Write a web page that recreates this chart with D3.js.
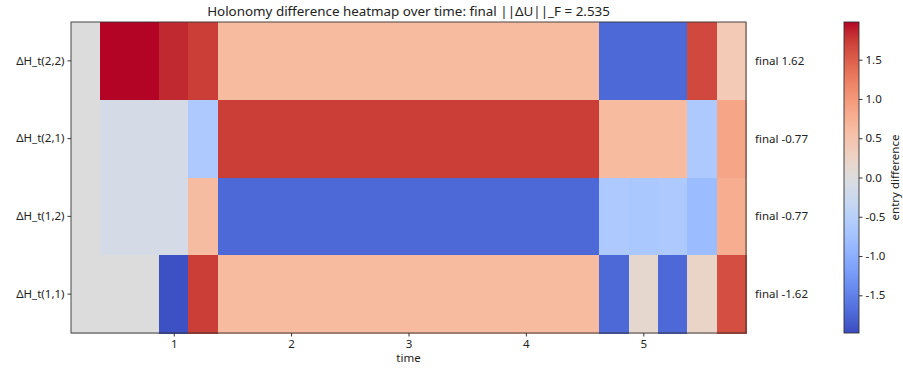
<!DOCTYPE html>
<html>
<head>
<meta charset="utf-8">
<script src="https://cdn.jsdelivr.net/npm/d3@7"></script>
<style>
  body { margin: 0; background: #fff; }
  text { font-family: 'Noto Sans', 'Liberation Sans', sans-serif; fill: #222; }
</style>
</head>
<body>
<div id="chart"></div>
<script>
// Data
const times = [0.25, 0.5, 0.75, 1.0, 1.25, 1.5, 1.75, 2.0, 2.25, 2.5, 2.75, 3.0, 3.25,
  3.5, 3.75, 4.0, 4.25, 4.5, 4.75, 5.0, 5.25, 5.5, 5.75]
const rowLabels = ['ΔH_t(2,2)', 'ΔH_t(2,1)', 'ΔH_t(1,2)', 'ΔH_t(1,1)']
const finalLabels = ['final 1.62', 'final -0.77', 'final -0.77', 'final -1.62']

const h22 = [0.0, 1.98, 1.98, 1.84, 1.73, 0.62, 0.62, 0.62, 0.62, 0.62, 0.62, 0.62, 0.62,
  0.62, 0.62, 0.62, 0.62, 0.62, -1.73, -1.73, -1.73, 1.66, 0.40]
const h21 = [0.0, -0.12, -0.12, -0.12, -0.62, 1.73, 1.73, 1.73, 1.73, 1.73, 1.73, 1.73, 1.73,
  1.73, 1.73, 1.73, 1.73, 1.73, 0.62, 0.62, 0.62, -0.62, 0.87]
const h12 = [0.0, -0.13, -0.13, -0.12, 0.60, -1.73, -1.73, -1.73, -1.73, -1.73, -1.73, -1.73, -1.73,
  -1.73, -1.73, -1.73, -1.73, -1.73, -0.62, -0.66, -0.62, -0.83, 0.78]
const h11 = [0.0, 0.0, 0.0, -1.94, 1.73, 0.62, 0.62, 0.62, 0.62, 0.62, 0.62, 0.62, 0.62,
  0.62, 0.62, 0.62, 0.62, 0.62, -1.73, 0.15, -1.73, 0.22, 1.62]
const series = [h22, h21, h12, h11]

const cbTicks = [-1.5, -1.0, -0.5, 0.0, 0.5, 1.0, 1.5]
const xTicks = [1, 2, 3, 4, 5]
const vmax = 1.98

// coolwarm control colours
const coolwarm = ['#3b4cc0', '#445acc', '#4d68d7', '#5775e1', '#6282ea', '#6c8ef1', '#779af7', '#82a5fb',
  '#8db0fe', '#98b9ff', '#a3c2ff', '#aec9fd', '#b8d0f9', '#c2d5f4', '#ccd9ee', '#d5dbe6', '#dddddd',
  '#e5d8d1', '#ecd3c5', '#f1ccb9', '#f5c4ad', '#f7bba0', '#f7b194', '#f7a687', '#f49a7b', '#f18d6f',
  '#ec7f63', '#e57058', '#de604d', '#d55042', '#cb3e38', '#c0282f', '#b40426']

// Dimensions
const width = 903
const height = 369
const plot = { left: 71, right: 746, top: 22, bottom: 333 }
const cb = { left: 844, right: 859 }
const fs = 11.5

const svg = d3.select('#chart')
  .append('svg')
  .attr('width', width)
  .attr('height', height)

// Scales
const xScale = d3.scaleLinear()
  .domain([0.125, 5.875])
  .range([plot.left, plot.right])

const yScale = d3.scaleBand()
  .domain(rowLabels)
  .range([plot.top, plot.bottom])

const colorScale = d3.scaleSequential(d3.interpolateRgbBasis(coolwarm))
  .domain([-vmax, vmax])

// Cells
const cells = []
series.forEach((vals, r) => {
  vals.forEach((v, i) => cells.push({ row: rowLabels[r], t: times[i], v }))
})

svg.append('g')
  .selectAll('rect')
  .data(cells)
  .join('rect')
  .attr('x', d => xScale(d.t - 0.125))
  .attr('y', d => yScale(d.row))
  .attr('width', d => xScale(d.t + 0.125) - xScale(d.t - 0.125) + 0.5)
  .attr('height', yScale.bandwidth() + 0.5)
  .attr('fill', d => colorScale(d.v))
  .attr('shape-rendering', 'crispEdges')

// Frame
svg.append('rect')
  .attr('x', plot.left)
  .attr('y', plot.top)
  .attr('width', plot.right - plot.left)
  .attr('height', plot.bottom - plot.top)
  .attr('fill', 'none')
  .attr('stroke', '#333')
  .attr('stroke-width', 0.9)

// Axes
const xAxis = d3.axisBottom(xScale)
  .tickValues(xTicks)
  .tickFormat(d3.format('d'))
  .tickSize(3.5)
  .tickPadding(3)

const xAxisGroup = svg.append('g')
  .attr('transform', `translate(0,${plot.bottom})`)
  .call(xAxis)
xAxisGroup.select('.domain').remove()
xAxisGroup.selectAll('.tick line').attr('stroke', '#333')
xAxisGroup.selectAll('text').attr('font-size', fs).attr('font-family', null)

const yAxis = d3.axisLeft(yScale)
  .tickSize(3.5)
  .tickPadding(3)

const yAxisGroup = svg.append('g')
  .attr('transform', `translate(${plot.left},0)`)
  .call(yAxis)
yAxisGroup.select('.domain').remove()
yAxisGroup.selectAll('.tick line').attr('stroke', '#333')
yAxisGroup.selectAll('text').attr('font-size', fs).attr('font-family', null)

// Right-hand labels
svg.append('g')
  .selectAll('text')
  .data(rowLabels)
  .join('text')
  .attr('x', 755)
  .attr('y', d => yScale(d) + yScale.bandwidth() / 2)
  .attr('dy', '0.35em')
  .attr('font-size', fs)
  .text((d, i) => finalLabels[i])

// Title and axis label
svg.append('text')
  .attr('x', (plot.left + plot.right) / 2)
  .attr('y', 16)
  .attr('text-anchor', 'middle')
  .attr('font-size', 13.4)
  .text('Holonomy difference heatmap over time: final ||ΔU||_F = 2.535')

svg.append('text')
  .attr('x', (plot.left + plot.right) / 2)
  .attr('y', 362)
  .attr('text-anchor', 'middle')
  .attr('font-size', fs)
  .text('time')

// Colorbar
const cbScale = d3.scaleLinear()
  .domain([-vmax, vmax])
  .range([plot.bottom, plot.top])

const grad = svg.append('defs')
  .append('linearGradient')
  .attr('id', 'cbgrad')
  .attr('x1', 0).attr('y1', 1)
  .attr('x2', 0).attr('y2', 0)

grad.selectAll('stop')
  .data(d3.range(0, 1.0001, 0.02))
  .join('stop')
  .attr('offset', d => d)
  .attr('stop-color', d => colorScale(-vmax + d * 2 * vmax))

svg.append('rect')
  .attr('x', cb.left)
  .attr('y', plot.top)
  .attr('width', cb.right - cb.left)
  .attr('height', plot.bottom - plot.top)
  .attr('fill', 'url(#cbgrad)')
  .attr('stroke', '#333')
  .attr('stroke-width', 0.9)

const cbAxis = d3.axisRight(cbScale)
  .tickValues(cbTicks)
  .tickFormat(d => d3.format('.1f')(d).replace('−', '-'))
  .tickSize(3.5)
  .tickPadding(3)

const cbGroup = svg.append('g')
  .attr('transform', `translate(${cb.right},0)`)
  .call(cbAxis)
cbGroup.select('.domain').remove()
cbGroup.selectAll('.tick line').attr('stroke', '#333')
cbGroup.selectAll('text').attr('font-size', fs).attr('font-family', null)

svg.append('text')
  .attr('transform', `translate(899,${(plot.top + plot.bottom) / 2}) rotate(-90)`)
  .attr('text-anchor', 'middle')
  .attr('font-size', fs)
  .text('entry difference')
</script>
</body>
</html>
